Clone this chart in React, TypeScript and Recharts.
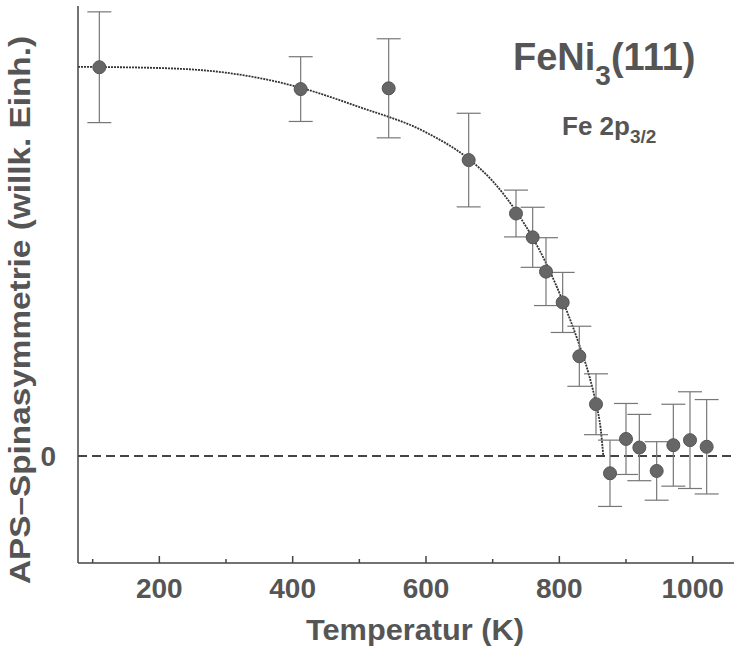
import {
  ComposedChart,
  Scatter,
  Line,
  XAxis,
  YAxis,
  ErrorBar,
  ReferenceLine,
  Customized,
} from 'recharts'

// measured points: temperature (K), asymmetry (arb. units), error
const tempK = [110, 412, 544, 664, 735, 760, 780, 805, 830, 855, 876, 900, 920, 946, 971, 996, 1021]
const asym = [9.97, 9.41, 9.43, 7.59, 6.22, 5.61, 4.73, 3.94, 2.56, 1.33, -0.44, 0.44, 0.22, -0.38, 0.28, 0.41, 0.24]
const asymErr = [1.42, 0.83, 1.27, 1.2, 0.6, 0.77, 0.87, 0.77, 0.77, 0.78, 0.85, 0.91, 0.85, 0.75, 1.05, 1.24, 1.21]

// fit curve
const fitT = [78, 200, 300, 400, 500, 600, 664, 700, 735, 760, 780, 805, 830, 845, 855, 862, 866]
const fitY = [9.98, 9.95, 9.83, 9.5, 8.95, 8.3, 7.62, 7.05, 6.28, 5.6, 4.95, 3.98, 2.85, 2.05, 1.35, 0.7, 0]

const xTicks = [100, 200, 300, 400, 500, 600, 700, 800, 900, 1000]
const yTicks = [0]

const points = tempK.map((t, i) => ({ t, a: asym[i], err: asymErr[i] }))
const fit = fitT.map((t, i) => ({ t, fit: fitY[i] }))

const FONT = '"Liberation Sans", Arial, Helvetica, sans-serif'
const INK = '#555'
const TICK_MARGIN = 4

function BottomTick(props: any) {
  const { x, y, payload } = props
  const axisY = y - TICK_MARGIN
  const major = payload.value % 200 === 0
  return (
    <g>
      <line x1={x} x2={x} y1={axisY} y2={axisY - (major ? 7 : 4)} stroke="#444" strokeWidth={1.5} />
      {major && (
        <text
          x={x}
          y={axisY + 35}
          textAnchor="middle"
          fontFamily={FONT}
          fontWeight="bold"
          fontSize={28}
          fill={INK}
        >
          {payload.value}
        </text>
      )}
    </g>
  )
}

function Labels() {
  return (
    <g fontFamily={FONT} fontWeight="bold" fill={INK}>
      <text x={513} y={70} fontSize={38}>
        FeNi
        <tspan dy={15} fontSize={28}>3</tspan>
        <tspan dy={-15} fontSize={38}>(111)</tspan>
      </text>
      <text x={562} y={135} fontSize={26}>
        Fe 2p
        <tspan dy={8} fontSize={19}>3/2</tspan>
      </text>
      <text
        x={415}
        y={640}
        fontSize={29}
        textAnchor="middle"
        textLength={218}
        lengthAdjust="spacingAndGlyphs"
      >
        Temperatur (K)
      </text>
      <text
        transform="translate(30, 310) rotate(-90)"
        fontSize={30}
        textAnchor="middle"
        textLength={548}
        lengthAdjust="spacingAndGlyphs"
      >
        APS–Spinasymmetrie (willk. Einh.)
      </text>
    </g>
  )
}

export default function App() {
  return (
    <div style={{ position: 'absolute', left: 0, top: 0, width: 734, height: 648, background: '#fff' }}>
      <ComposedChart width={734} height={648} margin={{ top: 6, right: 0, bottom: 0, left: 0 }}>
        <XAxis
          dataKey="t"
          type="number"
          domain={[78, 1062]}
          ticks={xTicks}
          allowDataOverflow
          height={85}
          tickLine={false}
          tickSize={0}
          tickMargin={TICK_MARGIN}
          tick={<BottomTick />}
          axisLine={{ stroke: '#444', strokeWidth: 1.5 }}
        />
        <XAxis
          xAxisId="top"
          orientation="top"
          dataKey="t"
          type="number"
          domain={[78, 1062]}
          ticks={xTicks}
          allowDataOverflow
          height={0}
          mirror
          tick={false}
          tickSize={7}
          tickLine={{ stroke: '#444', strokeWidth: 1.5 }}
          axisLine={{ stroke: '#444', strokeWidth: 1.5 }}
        />
        <YAxis
          type="number"
          domain={[-2.74, 11.54]}
          ticks={yTicks}
          allowDataOverflow
          width={78}
          tickLine={false}
          tickSize={0}
          tickMargin={22}
          tick={{ fontSize: 28, fontWeight: 'bold', fill: INK, fontFamily: FONT }}
          axisLine={{ stroke: '#444', strokeWidth: 1.5 }}
        />
        <ReferenceLine y={0} stroke="#444" strokeWidth={2} strokeDasharray="9 5" />
        <Line
          data={fit}
          dataKey="fit"
          type="monotone"
          stroke="#333"
          strokeWidth={1.8}
          strokeDasharray="2 1"
          dot={false}
          isAnimationActive={false}
        />
        <Scatter
          data={points}
          dataKey="a"
          fill="#666"
          stroke="#555"
          shape={(p: any) => <circle cx={p.cx} cy={p.cy} r={6.5} fill="#666" stroke="#555" />}
          isAnimationActive={false}
        >
          <ErrorBar dataKey="err" direction="y" width={12} stroke="#777" strokeWidth={1.2} />
        </Scatter>
        <Customized component={Labels} />
      </ComposedChart>
    </div>
  )
}
